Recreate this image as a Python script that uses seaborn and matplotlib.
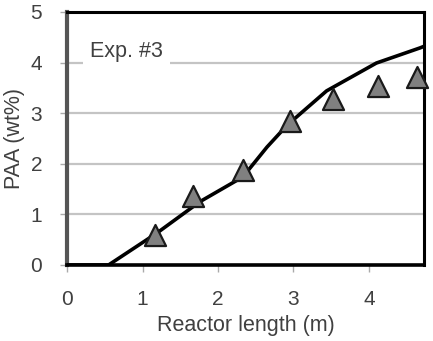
import matplotlib
matplotlib.use("Agg")
import matplotlib.pyplot as plt
import seaborn as sns
import pandas as pd

# Data
model_x = [0.0, 0.55, 1.19, 1.76, 2.33, 2.65, 2.86, 3.0, 3.44, 4.1, 4.68, 4.73]
model_y = [0.0, 0.0, 0.63, 1.25, 1.74, 2.33, 2.67, 2.87, 3.44, 3.99, 4.29, 4.32]
exp_x = [1.17, 1.67, 2.33, 2.95, 3.52, 4.12, 4.64]
exp_y = [0.60, 1.36, 1.88, 2.84, 3.27, 3.53, 3.71]
x_ticks = [0, 1, 2, 3, 4]
y_ticks = [0, 1, 2, 3, 4, 5]

sns.set_theme(style="white")
plt.rcParams['font.family'] = ['Liberation Sans', 'DejaVu Sans']

fig = plt.figure(figsize=(4.33, 3.41), dpi=100)
ax = fig.add_axes([0.155, 0.223, 0.824, 0.742])

model = pd.DataFrame({"x": model_x, "y": model_y})
exp = pd.DataFrame({"x": exp_x, "y": exp_y})

for yv in y_ticks[1:-1]:
    ax.axhline(yv, color="#c4c4c4", lw=1.6, zorder=0)

sns.lineplot(data=model, x="x", y="y", ax=ax, color="black", lw=2.6, zorder=3, sort=False)
sns.scatterplot(data=exp, x="x", y="y", ax=ax, marker="^", s=230, color="#808080",
                edgecolor="#1a1a1a", linewidth=1.6, zorder=4, clip_on=False)

ax.set_xlim(0, 4.73)
ax.set_ylim(0, 5)
ax.set_xticks(x_ticks)
ax.set_yticks(y_ticks)
ax.tick_params(axis="both", direction="out", length=5, width=1, color="#aaaaaa",
               labelsize=15, labelcolor="#404040", bottom=True, left=True)
ax.tick_params(axis="x", pad=13)
ax.tick_params(axis="y", pad=13)
ax.set_xlabel("Reactor length (m)", fontsize=15.5, color="#404040", labelpad=4)
ax.set_ylabel("PAA (wt%)", fontsize=15.5, color="#404040", labelpad=4)

for side in ["top", "right", "bottom"]:
    ax.spines[side].set_color("black")
    ax.spines[side].set_linewidth(2.2)
ax.spines["bottom"].set_linewidth(2.6)
ax.spines["left"].set_color("#555555")
ax.spines["left"].set_linewidth(3)

ax.text(0.30, 4.21, "Exp. #3", fontsize=15.5, color="#404040", va="center", ha="left",
        bbox=dict(facecolor="white", edgecolor="none", pad=5), zorder=2)

fig.savefig("out.png", dpi=100)
